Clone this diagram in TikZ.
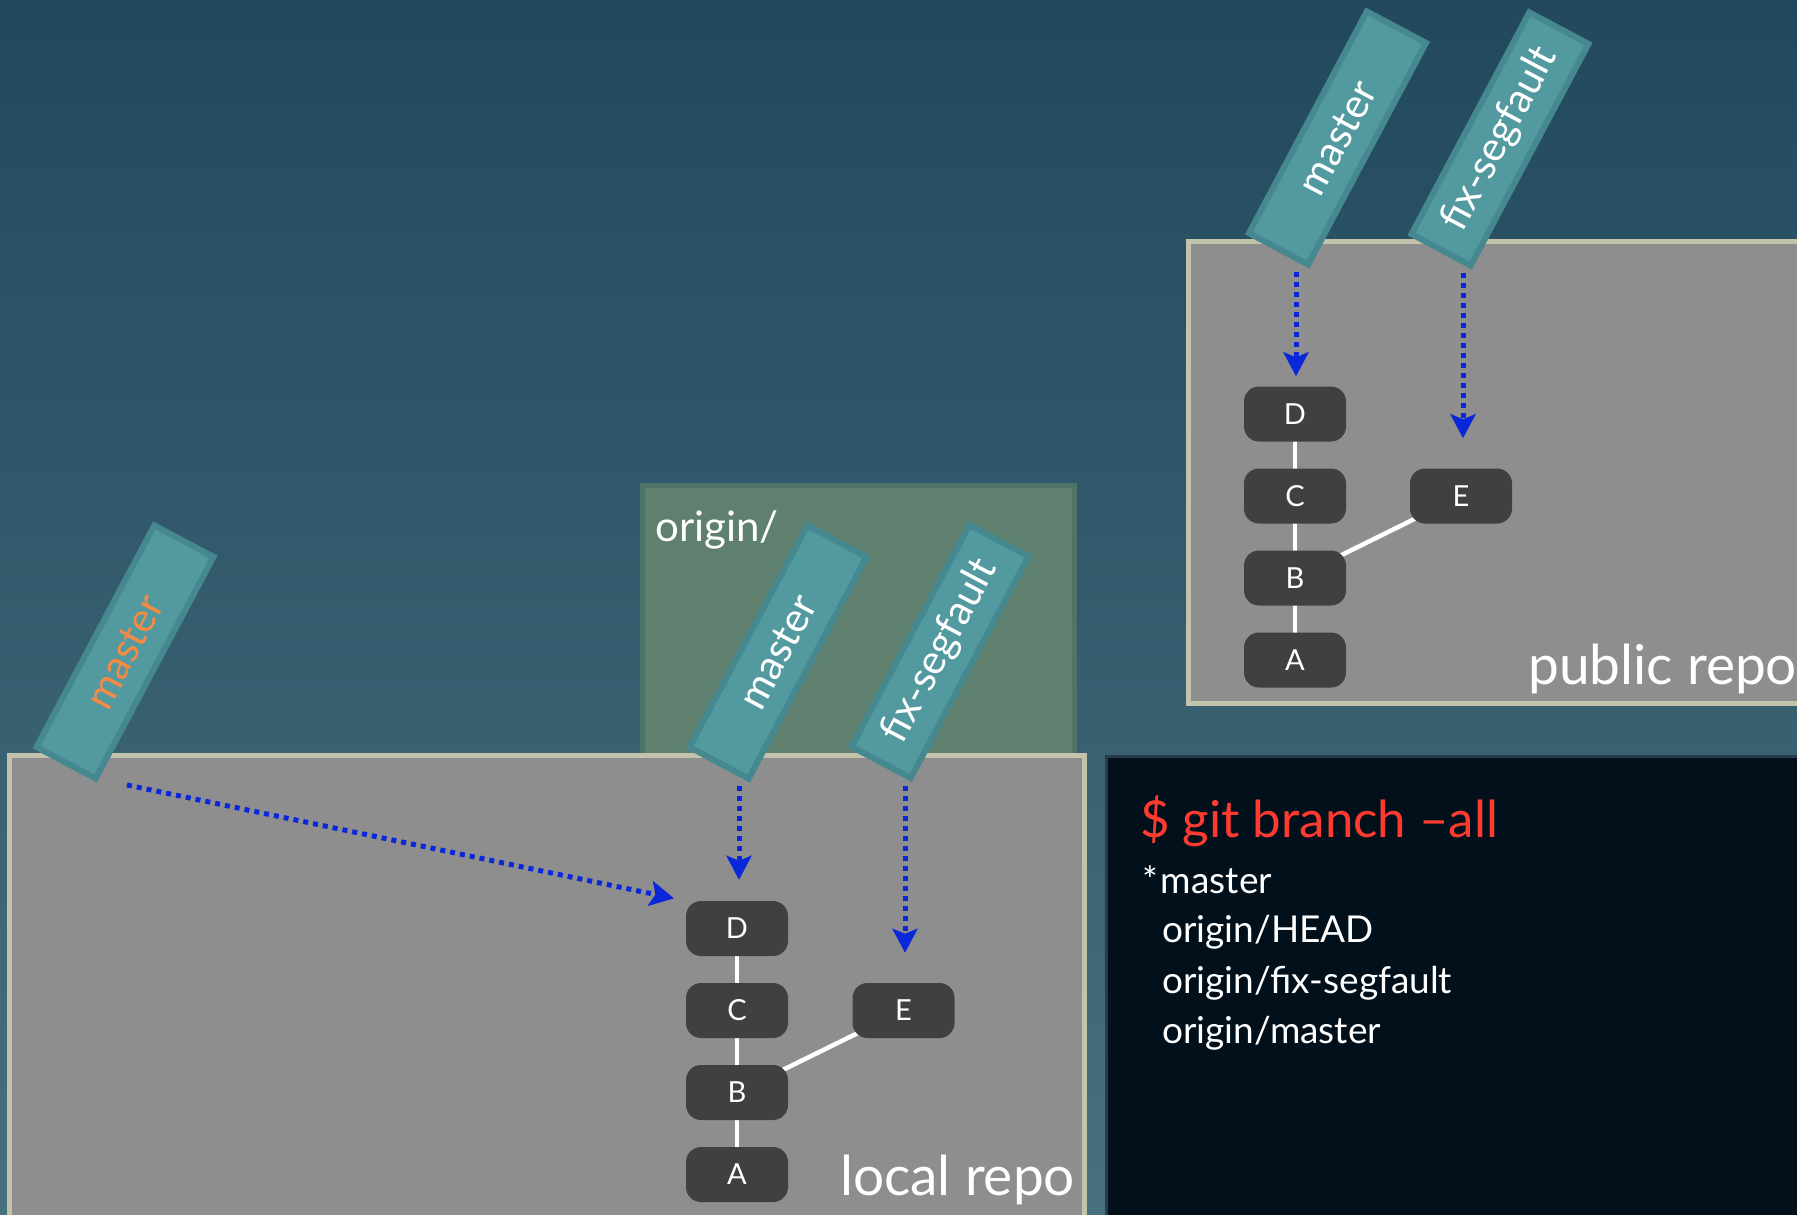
\documentclass[tikz,border=0pt]{standalone}
\usepackage{fontspec}
\setmainfont{Lato}
\usetikzlibrary{arrows.meta}
\definecolor{bgtop}{HTML}{22485C}
\definecolor{bgbot}{HTML}{47707F}
\definecolor{repofill}{HTML}{8E8E8E}
\definecolor{repoline}{HTML}{C3C3AC}
\definecolor{origfill}{HTML}{5F806E}
\definecolor{origline}{HTML}{4E7467}
\definecolor{tagfill}{HTML}{529AA0}
\definecolor{tagline}{HTML}{458890}
\definecolor{commitfill}{HTML}{404040}
\definecolor{arrowblue}{HTML}{0A28DA}
\definecolor{termfill}{HTML}{02101B}
\definecolor{termline}{HTML}{2A3C4B}
\definecolor{cmdred}{HTML}{FF3B2F}
\definecolor{masterorange}{HTML}{F58A45}
\pgfdeclarelayer{bglayer}
\pgfdeclarelayer{edgelayer}
\pgfsetlayers{bglayer,edgelayer,main}
\tikzset{
  repobox/.style={fill=repofill, draw=repoline, line width=5pt},
  originbox/.style={fill=origfill, draw=origline, line width=5pt},
  termbox/.style={fill=termfill, draw=termline, line width=3pt},
  tagbox/.style={draw=tagline, fill=tagfill, line width=6pt, minimum width=251pt,
    minimum height=67pt, inner sep=0pt, rotate=62, text=white,
    font=\fontsize{41}{41}\selectfont},
  commit/.style={fill=commitfill, rounded corners=15pt, minimum width=102pt,
    minimum height=55pt, inner sep=0pt, text=white, font=\fontsize{29}{29}\selectfont},
  link/.style={draw=white, line width=4.5pt},
  ptr/.style={draw=arrowblue, line width=5pt, dash pattern=on 5pt off 5pt,
    -{Stealth[length=24pt,width=25pt,inset=5pt]}},
  bigtext/.style={text=white, font=\fontsize{55}{55}\selectfont, inner sep=0pt, anchor=base west},
  termtext/.style={text=white, font=\fontsize{37}{37}\selectfont, inner sep=0pt, anchor=base west},
}
\begin{document}
\begin{tikzpicture}[x=1pt,y=-1pt]
\useasboundingbox (0,0) rectangle (1797,1215);
\clip (0,0) rectangle (1797,1215);
\begin{pgfonlayer}{bglayer}
  \shade[top color=bgtop, bottom color=bgbot] (0,0) rectangle (1797,1215);
  \path[originbox] (642.5,485.5) rectangle (1074.5,800);
  \path[repobox] (9.5,755) rectangle (1084.5,1230);
  \path[repobox] (1188,241) rectangle (1810,703);
  \path[termbox] (1106.5,756) rectangle (1810,1230);
\end{pgfonlayer}

% local repo commits
\node[commit] (lD) at (737,928.5) {D};
\node[commit] (lC) at (737,1010.5) {C};
\node[commit] (lB) at (737,1092.5) {B};
\node[commit] (lA) at (737,1174.5) {A};
\node[commit] (lE) at (903.5,1010.5) {E};
% public repo commits
\node[commit] (pD) at (1295,414) {D};
\node[commit] (pC) at (1295,496) {C};
\node[commit] (pB) at (1295,578) {B};
\node[commit] (pA) at (1295,660) {A};
\node[commit] (pE) at (1461,496) {E};

\begin{pgfonlayer}{edgelayer}
  \draw[link] (lA.center) -- (lB.center) -- (lC.center) -- (lD.center);
  \draw[link] (lB.center) -- (lE.center);
  \draw[link] (pA.center) -- (pB.center) -- (pC.center) -- (pD.center);
  \draw[link] (pB.center) -- (pE.center);
\end{pgfonlayer}

% labels
\node[bigtext] (lrepo) at (840,1195) {local repo};
\node[bigtext] (prepo) at (1528,684) {public repo};
\node[bigtext, font=\fontsize{42}{42}\selectfont] (orig) at (655,541) {origin/};

% pointer arrows
\coordinate (s1) at (127,785);
\coordinate (s2) at (739,786);
\coordinate (s3) at (905,786);
\coordinate (s4) at (1296,272);
\coordinate (s5) at (1463,273);
\draw[ptr, shorten >=12pt] (s1) -- (lD.north west);
\draw[ptr, shorten >=21pt] (s2) -- (s2 |- lD.north);
\draw[ptr, shorten >=30pt] (s3) -- (s3 |- lE.north);
\draw[ptr, shorten >=10pt] (s4) -- (s4 |- pD.north);
\draw[ptr, shorten >=30pt] (s5) -- (s5 |- pE.north);

% branch tags
\node[tagbox, text=masterorange] (tagLM) at (125,652) {master};
\node[tagbox] (tagOM) at (778,652) {master};
\node[tagbox] (tagOF) at (940,651.5) {fix-segfault};
\node[tagbox] (tagPM) at (1337.5,138) {master};
\node[tagbox] (tagPF) at (1500,139) {fix-segfault};

% terminal
\node[termtext, text=cmdred, font=\fontsize{51}{51}\selectfont] (cmd) at (1140,837) {\$ git branch \textendash all};
\node[termtext] (t1) at (1142,893) {*\hspace{3pt}master};
\node[termtext] (t2) at (1162,942) {origin/HEAD};
\node[termtext] (t3) at (1162,993) {origin/fix-segfault};
\node[termtext] (t4) at (1162,1043) {origin/master};
\end{tikzpicture}
\end{document}
